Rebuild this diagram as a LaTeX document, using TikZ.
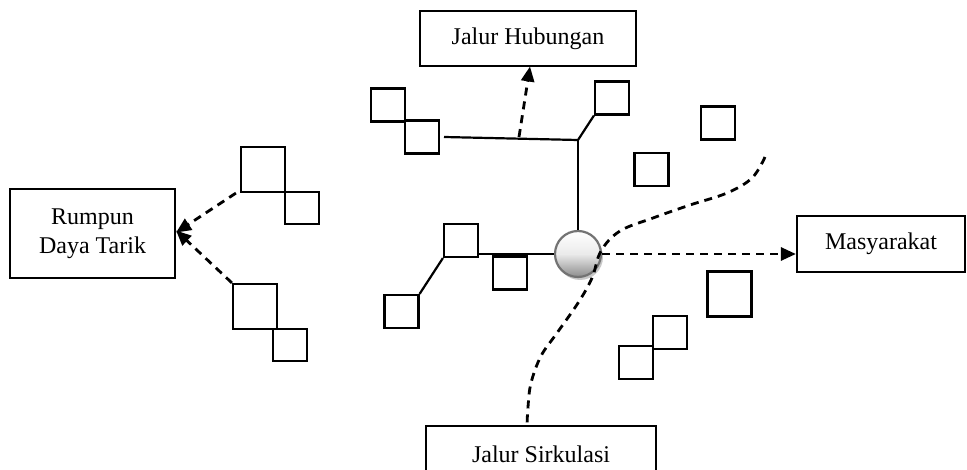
\documentclass[tikz,border=0pt]{standalone}
\usepackage{fontspec}
\setmainfont{Liberation Serif}
\usetikzlibrary{arrows.meta,shadows}
\begin{document}
\begin{tikzpicture}[x=1pt,y=-1pt,
  every node/.style={font=\fontsize{24}{29}\selectfont},
  lbox/.style={draw,line width=2.2pt,inner sep=0pt,align=center},
  sq/.style={draw,line width=2.2pt,inner sep=0pt,minimum width=34pt,minimum height=33pt},
  bigsq/.style={draw,line width=2.2pt,inner sep=0pt,minimum width=44pt,minimum height=45pt},
  solidln/.style={line width=2.2pt},
  dashln/.style={line width=2.8pt,dash pattern=on 8pt off 6pt},
  arr/.style={dashln,-{Triangle[length=15pt,width=13pt]}},
  hub/.style={circle,draw=black!55,line width=2.2pt,minimum size=46pt,inner sep=0pt,
    top color=white,bottom color=black!45,middle color=black!8,
    drop shadow={shadow xshift=2pt,shadow yshift=-3pt,fill=black!30,opacity=0.7}}
]
\clip (0,0) rectangle (967,470);
\fill[white] (0,0) rectangle (967,470);

% label boxes
\node[lbox,minimum width=216pt,minimum height=55pt] (jh) at (528,38.5) {Jalur Hubungan};
\node[lbox,minimum width=165pt,minimum height=89pt] (rd) at (92.5,233.5) {Rumpun\\Daya Tarik};
\node[lbox,minimum width=168pt,minimum height=56pt] (ms) at (881,244) {Masyarakat};
\node[lbox,minimum width=230pt,minimum height=56pt] (js) at (541,454) {Jalur Sirkulasi};

% squares
\node[sq] (s1) at (388,105) {};
\node[sq] (s2) at (422,137) {};
\node[sq] (s3) at (612,98) {};
\node[sq] (s4) at (718,123) {};
\node[sq] (s5) at (651.5,169.5) {};
\node[sq] (s6) at (461,240.5) {};
\node[sq] (s7) at (510,273) {};
\node[sq] (s8) at (401.5,311.5) {};
\node[bigsq] (s9) at (729.5,294) {};
\node[sq] (s10) at (670,332.5) {};
\node[sq] (s11) at (636,362.5) {};
\node[bigsq] (s12) at (263,169.5) {};
\node[sq,minimum height=32pt] (s13) at (302,208) {};
\node[bigsq] (s14) at (255,306.5) {};
\node[sq,minimum height=32pt] (s15) at (290,345) {};

% hub
\node[hub] (c) at (578,254) {};

% solid network
\coordinate (j1) at (578,140);
\coordinate (l1) at (444,137);
\draw[solidln] (l1) -- (j1) -- (s3.south west);
\draw[solidln] (j1) -- (c.north);
\draw[solidln] (c.west) -- (c.west -| s6.east);
\draw[solidln] (s8.north east) -- (s6.south west);

% dashed arrows
\coordinate (a1) at (519,137);
\draw[arr] (a1) -- (530,66.5);
\draw[arr] ([xshift=-4pt]s12.south west) -- ([yshift=1pt]rd.east);
\draw[arr] (s14.north west) -- ([yshift=3pt]rd.east);
\draw[arr] (c.east) -- (ms.west |- c.east);

% dashed circulation path
\coordinate (p0) at (765,157);
\coordinate (p9) at (527,426);
\draw[dashln] plot[smooth,tension=0.6] coordinates {(p0) (752,178) (727,193) (690,205) (653,218) (620,231) (601,251) (592,278) (578,303) (557,333) (541,356) (531,383) (528,407) (p9)};

\end{tikzpicture}
\end{document}
